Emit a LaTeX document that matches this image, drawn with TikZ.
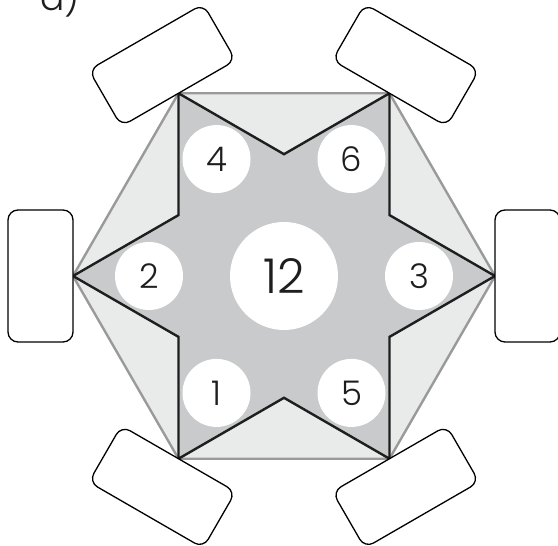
\documentclass[tikz,border=0pt]{standalone}
\usepackage{fontspec}
\setmainfont{Poppins Light}
\definecolor{hexfill}{HTML}{E9EBEB}
\definecolor{hexline}{HTML}{9A9A9A}
\definecolor{starfill}{HTML}{C9CACC}
\definecolor{starline}{HTML}{1E1E1E}
\tikzset{
  seat/.style={draw=black, line width=1.3pt, rounded corners=10pt, fill=white,
    minimum width=132pt, minimum height=65pt, inner sep=0pt},
  numdisc/.style={circle, fill=white, minimum size=68pt, inner sep=0pt,
    font=\fontsize{34}{34}\selectfont, text=starline},
  bigdisc/.style={circle, fill=white, minimum size=108pt, inner sep=0pt,
    font=\fontsize{48}{48}\selectfont, text=starline},
}
\begin{document}
\begin{tikzpicture}[x=1pt,y=1pt]
\clip (0,0) rectangle (558,546);
\useasboundingbox (0,0) rectangle (558,546);
\begin{scope}[shift={(284,270)}]
  % hexagon
  \draw[hexline, line width=2.4pt, fill=hexfill, line join=miter]
    (0:211) -- (60:211) -- (120:211) -- (180:211) -- (240:211) -- (300:211) -- cycle;
  % star
  \draw[starline, line width=2.4pt, fill=starfill, line join=miter]
    (0:211) -- (30:121.8) -- (60:211) -- (90:121.8) -- (120:211) -- (150:121.8)
    -- (180:211) -- (210:121.8) -- (240:211) -- (270:121.8) -- (300:211) -- (330:121.8) -- cycle;
  % seats
  \foreach \a/\n in {0/r,60/tr,120/tl,180/l,240/bl,300/br}{
    \node[seat, rotate=\a+90] (seat\n) at (\a:243.5) {};
  }
  % discs
  \node[bigdisc] (c12) at (0,0) {12};
  \node[numdisc] (c3) at (0:135) {3};
  \node[numdisc] (c6) at (60:135) {6};
  \node[numdisc] (c4) at (120:135) {4};
  \node[numdisc] (c2) at (180:135) {2};
  \node[numdisc] (c1) at (240:135) {1};
  \node[numdisc] (c5) at (300:135) {5};
\end{scope}
\node[anchor=base west, inner sep=0pt, font=\fontsize{36}{36}\selectfont, text=starline] (lbl) at (40,535) {a)};
\end{tikzpicture}
\end{document}
